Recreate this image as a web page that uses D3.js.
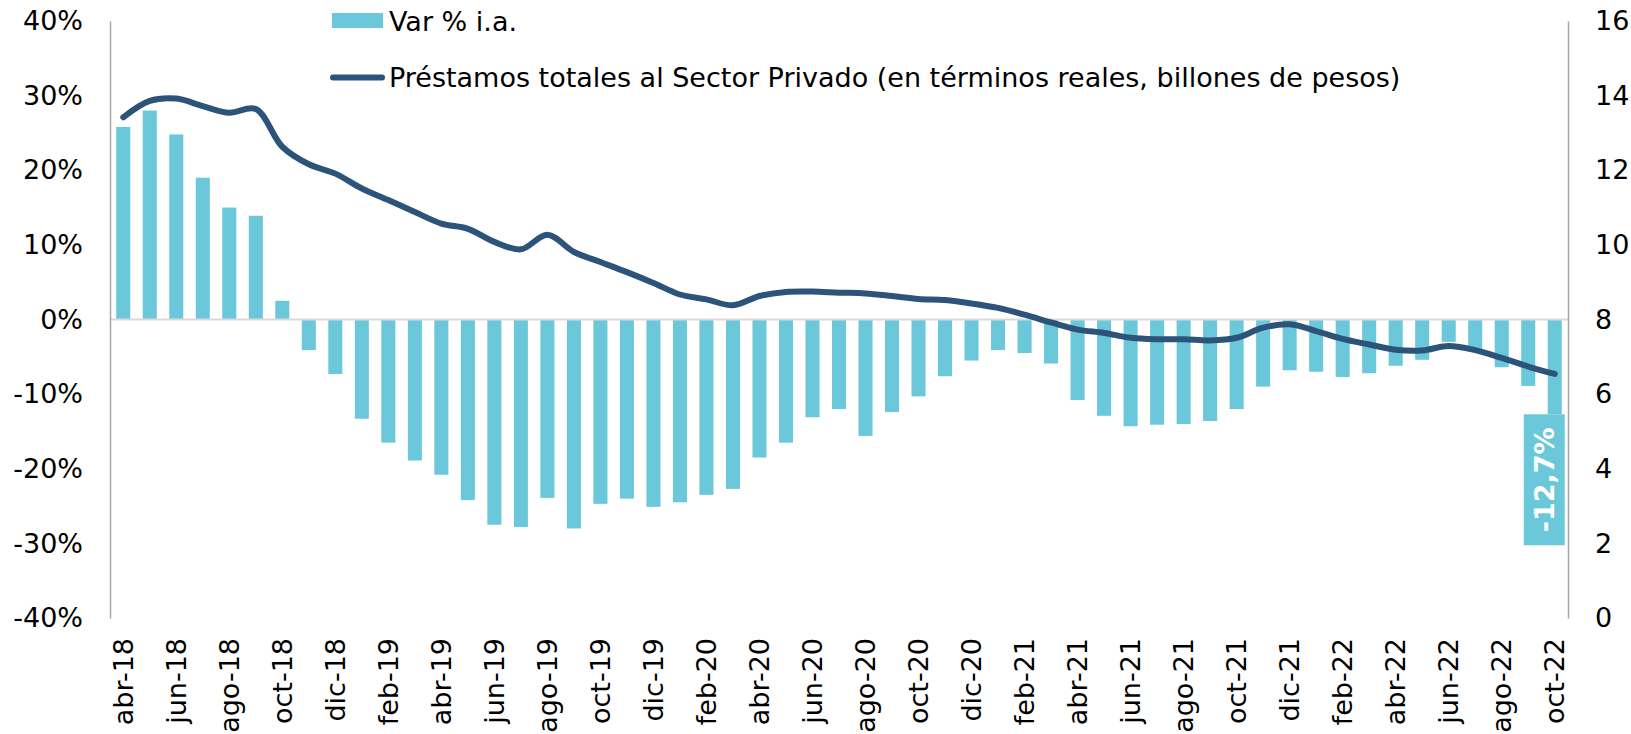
<!DOCTYPE html>
<html>
<head>
  <meta charset="utf-8">
  <title>Préstamos al Sector Privado</title>
  <script src="https://d3js.org/d3.v7.min.js"></script>
  <style>
    body { margin: 0; background: white; }
    svg text { font-family: "DejaVu Sans", Verdana, sans-serif; fill: #000; }
  </style>
</head>
<body>
<div id="container"></div>
<script>
  // months (category axis)
  const meses = [
    "abr-18","may-18","jun-18","jul-18","ago-18","sep-18","oct-18","nov-18","dic-18",
    "ene-19","feb-19","mar-19","abr-19","may-19","jun-19","jul-19","ago-19","sep-19","oct-19","nov-19","dic-19",
    "ene-20","feb-20","mar-20","abr-20","may-20","jun-20","jul-20","ago-20","sep-20","oct-20","nov-20","dic-20",
    "ene-21","feb-21","mar-21","abr-21","may-21","jun-21","jul-21","ago-21","sep-21","oct-21","nov-21","dic-21",
    "ene-22","feb-22","mar-22","abr-22","may-22","jun-22","jul-22","ago-22","sep-22","oct-22"
  ];

  // Var % i.a. (left axis, %)
  const variacion = [
    25.8, 28.0, 24.8, 19.0, 15.0, 13.9, 2.5, -4.1, -7.3,
    -13.3, -16.5, -18.9, -20.8, -24.2, -27.5, -27.8, -23.9, -28.0, -24.7, -24.0, -25.1,
    -24.5, -23.5, -22.7, -18.5, -16.5, -13.1, -12.0, -15.6, -12.4, -10.3, -7.6, -5.5,
    -4.1, -4.5, -5.9, -10.8, -12.9, -14.3, -14.1, -14.0, -13.6, -12.0, -9.0, -6.8,
    -7.0, -7.7, -7.2, -6.2, -5.4, -3.0, -4.3, -6.4, -8.9, -12.7
  ];

  // Préstamos totales, billones de pesos reales (right axis)
  const prestamos = [
    13.42, 13.86, 13.92, 13.72, 13.54, 13.64, 12.63, 12.16, 11.91,
    11.51, 11.20, 10.88, 10.57, 10.43, 10.08, 9.88, 10.27, 9.81, 9.54, 9.27, 8.98,
    8.67, 8.54, 8.38, 8.63, 8.74, 8.75, 8.72, 8.70, 8.63, 8.55, 8.52, 8.43,
    8.31, 8.13, 7.92, 7.73, 7.64, 7.51, 7.47, 7.47, 7.44, 7.51, 7.78, 7.87,
    7.69, 7.48, 7.33, 7.19, 7.17, 7.29, 7.18, 6.97, 6.74, 6.54
  ];

  const ticksIzq = [-40, -30, -20, -10, 0, 10, 20, 30, 40];
  const ticksDer = [0, 2, 4, 6, 8, 10, 12, 14, 16];

  const serieBarras = "Var % i.a.";
  const serieLinea = "Préstamos totales al Sector Privado (en términos reales, billones de pesos)";

  const width = 1631, height = 734;
  const margin = { top: 21, bottom: 116, left: 110, right: 63 };

  const colorBarra = "#6AC8DA",
        colorLinea = "#2C547A";

  const svg = d3.select("#container")
    .append("svg")
    .attr("width", width)
    .attr("height", height)
    .style("display", "block");

  const x = d3.scaleBand()
    .domain(meses)
    .range([margin.left, width - margin.right])
    .paddingInner(0.47)
    .paddingOuter(0.235);

  const yL = d3.scaleLinear()
    .domain([-40, 40])
    .range([height - margin.bottom, margin.top]);

  const yR = d3.scaleLinear()
    .domain([0, 16])
    .range([height - margin.bottom, margin.top]);

  const data = meses.map(function(m, i){ return { mes: m, v: variacion[i], p: prestamos[i] }; });

  // bars
  svg.append("g")
    .selectAll("rect")
    .data(data)
    .enter()
    .append("rect")
    .attr("x", function(d){ return x(d.mes); })
    .attr("width", x.bandwidth())
    .attr("y", function(d){ return yL(Math.max(0, d.v)); })
    .attr("height", function(d){ return Math.abs(yL(d.v) - yL(0)); })
    .attr("fill", colorBarra);

  // zero line
  svg.append("line")
    .attr("x1", margin.left)
    .attr("x2", width - margin.right)
    .attr("y1", yL(0))
    .attr("y2", yL(0))
    .attr("stroke", "#D9D9D9")
    .attr("stroke-width", 2);

  // left axis
  const axisL = svg.append("g")
    .attr("transform", "translate(" + margin.left + ",0)")
    .call(d3.axisLeft(yL).tickValues(ticksIzq).tickSize(0).tickPadding(27)
      .tickFormat(function(d){ return d + "%"; }));
  axisL.select(".domain").attr("stroke", "#A6A6A6").attr("stroke-width", 1.5);
  axisL.selectAll("text").style("font-size", "27px").attr("fill", "#000");

  // right axis
  const axisR = svg.append("g")
    .attr("transform", "translate(" + (width - margin.right) + ",0)")
    .call(d3.axisRight(yR).tickValues(ticksDer).tickSize(0).tickPadding(27));
  axisR.select(".domain").attr("stroke", "#A6A6A6").attr("stroke-width", 1.5);
  axisR.selectAll("text").style("font-size", "27px").attr("fill", "#000");

  // bottom axis labels (every other month)
  const axisB = svg.append("g")
    .attr("transform", "translate(0," + (height - margin.bottom) + ")")
    .call(d3.axisBottom(x).tickValues(meses.filter(function(d, i){ return i % 2 === 0; })).tickSize(0));
  axisB.select(".domain").remove();
  axisB.selectAll("text")
    .style("font-size", "27px")
    .attr("fill", "#000")
    .attr("text-anchor", "end")
    .attr("dy", null)
    .attr("y", 0)
    .attr("dominant-baseline", "central")
    .attr("transform", "translate(0,20) rotate(-90)");

  // line
  const linea = d3.line()
    .x(function(d){ return x(d.mes) + x.bandwidth() / 2; })
    .y(function(d){ return yR(d.p); })
    .curve(d3.curveCatmullRom.alpha(0.5));

  svg.append("path")
    .datum(data)
    .attr("d", linea)
    .attr("fill", "none")
    .attr("stroke", colorLinea)
    .attr("stroke-width", 6)
    .attr("stroke-linecap", "round")
    .attr("stroke-linejoin", "round");

  // data label on the last bar
  const ult = data[data.length - 1];
  const cx = x(ult.mes) + x.bandwidth() / 2;
  svg.append("rect")
    .attr("x", cx - 31)
    .attr("y", yL(ult.v))
    .attr("width", 41)
    .attr("height", 131)
    .attr("fill", colorBarra);
  svg.append("text")
    .attr("transform", "translate(" + (cx - 10.5) + "," + (yL(ult.v) + 65.5) + ") rotate(-90)")
    .attr("text-anchor", "middle")
    .attr("dominant-baseline", "central")
    .style("font-size", "27px")
    .style("font-weight", "bold")
    .style("fill", "#fff")
    .text(ult.v.toFixed(1).replace(".", ",") + "%");

  // legend
  const leg = svg.append("g");
  leg.append("rect")
    .attr("x", 332).attr("y", 13).attr("width", 51).attr("height", 15)
    .attr("fill", colorBarra);
  leg.append("text")
    .attr("x", 389).attr("y", 21)
    .attr("dominant-baseline", "central")
    .style("font-size", "27px")
    .text(serieBarras);
  leg.append("line")
    .attr("x1", 333).attr("x2", 382).attr("y1", 77.5).attr("y2", 77.5)
    .attr("stroke", colorLinea).attr("stroke-width", 6).attr("stroke-linecap", "round");
  leg.append("text")
    .attr("x", 389).attr("y", 77.5)
    .attr("dominant-baseline", "central")
    .style("font-size", "27px")
    .text(serieLinea);
</script>
</body>
</html>
